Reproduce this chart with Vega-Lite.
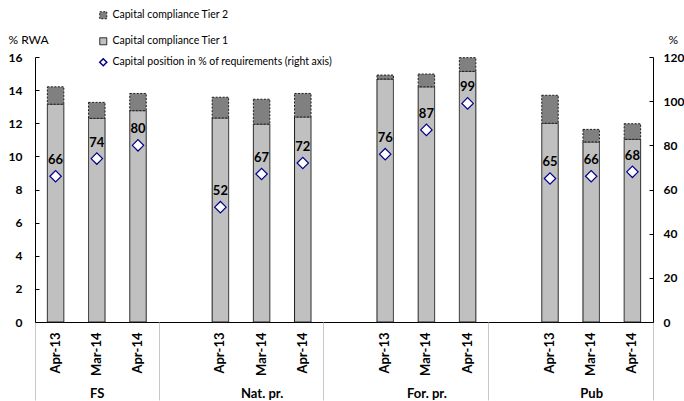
{
  "$schema": "https://vega.github.io/schema/vega-lite/v6.json",
  "width": 618,
  "height": 265,
  "autosize": "none",
  "padding": {"left": 35, "top": 57, "right": 31, "bottom": 79},
  "background": "white",
  "config": {
    "font": "Lato",
    "view": {"stroke": null},
    "axis": {
      "grid": false,
      "domainColor": "#000",
      "domainWidth": 1,
      "tickColor": "#000",
      "labelFont": "Lato",
      "labelFontWeight": "bold",
      "labelColor": "#000",
      "labelFontSize": 12,
      "titleFont": "Lato",
      "titleColor": "#000",
      "titleFontWeight": "normal",
      "titleFontSize": 12
    },
    "legend": {"labelFont": "Lato", "labelFontSize": 10.5, "labelColor": "#000", "labelLimit": 0}
  },
  "datasets": {
    "tiers": [
      {"group": "FS", "date": "Apr-13", "series": "Capital compliance Tier 1", "value": 13.15},
      {"group": "FS", "date": "Apr-13", "series": "Capital compliance Tier 2", "value": 1.05},
      {"group": "FS", "date": "Mar-14", "series": "Capital compliance Tier 1", "value": 12.3},
      {"group": "FS", "date": "Mar-14", "series": "Capital compliance Tier 2", "value": 0.96},
      {"group": "FS", "date": "Apr-14", "series": "Capital compliance Tier 1", "value": 12.76},
      {"group": "FS", "date": "Apr-14", "series": "Capital compliance Tier 2", "value": 1.04},
      {"group": "Nat. pr.", "date": "Apr-13", "series": "Capital compliance Tier 1", "value": 12.32},
      {"group": "Nat. pr.", "date": "Apr-13", "series": "Capital compliance Tier 2", "value": 1.25},
      {"group": "Nat. pr.", "date": "Mar-14", "series": "Capital compliance Tier 1", "value": 11.95},
      {"group": "Nat. pr.", "date": "Mar-14", "series": "Capital compliance Tier 2", "value": 1.5},
      {"group": "Nat. pr.", "date": "Apr-14", "series": "Capital compliance Tier 1", "value": 12.38},
      {"group": "Nat. pr.", "date": "Apr-14", "series": "Capital compliance Tier 2", "value": 1.42},
      {"group": "For. pr.", "date": "Apr-13", "series": "Capital compliance Tier 1", "value": 14.67},
      {"group": "For. pr.", "date": "Apr-13", "series": "Capital compliance Tier 2", "value": 0.24},
      {"group": "For. pr.", "date": "Mar-14", "series": "Capital compliance Tier 1", "value": 14.2},
      {"group": "For. pr.", "date": "Mar-14", "series": "Capital compliance Tier 2", "value": 0.77},
      {"group": "For. pr.", "date": "Apr-14", "series": "Capital compliance Tier 1", "value": 15.13},
      {"group": "For. pr.", "date": "Apr-14", "series": "Capital compliance Tier 2", "value": 0.83},
      {"group": "Pub", "date": "Apr-13", "series": "Capital compliance Tier 1", "value": 12.0},
      {"group": "Pub", "date": "Apr-13", "series": "Capital compliance Tier 2", "value": 1.69},
      {"group": "Pub", "date": "Mar-14", "series": "Capital compliance Tier 1", "value": 10.87},
      {"group": "Pub", "date": "Mar-14", "series": "Capital compliance Tier 2", "value": 0.76},
      {"group": "Pub", "date": "Apr-14", "series": "Capital compliance Tier 1", "value": 11.03},
      {"group": "Pub", "date": "Apr-14", "series": "Capital compliance Tier 2", "value": 0.94}
    ],
    "position": [
      {"group": "FS", "date": "Apr-13", "pos": 66},
      {"group": "FS", "date": "Mar-14", "pos": 74},
      {"group": "FS", "date": "Apr-14", "pos": 80},
      {"group": "Nat. pr.", "date": "Apr-13", "pos": 52},
      {"group": "Nat. pr.", "date": "Mar-14", "pos": 67},
      {"group": "Nat. pr.", "date": "Apr-14", "pos": 72},
      {"group": "For. pr.", "date": "Apr-13", "pos": 76},
      {"group": "For. pr.", "date": "Mar-14", "pos": 87},
      {"group": "For. pr.", "date": "Apr-14", "pos": 99},
      {"group": "Pub", "date": "Apr-13", "pos": 65},
      {"group": "Pub", "date": "Mar-14", "pos": 66},
      {"group": "Pub", "date": "Apr-14", "pos": 68}
    ]
  },
  "layer": [
    {
      "data": {"name": "tiers"},
      "transform": [{"calculate": "datum.group + '|' + datum.date", "as": "bar"}],
      "mark": {"type": "bar", "width": {"band": 0.4}, "stroke": "#1a1a1a", "strokeWidth": 1},
      "encoding": {
        "x": {
          "field": "bar",
          "type": "nominal",
          "sort": null,
          "scale": {
            "type": "band",
            "domain": ["FS|Apr-13", "FS|Mar-14", "FS|Apr-14", "gap1", "Nat. pr.|Apr-13", "Nat. pr.|Mar-14", "Nat. pr.|Apr-14", "gap2", "For. pr.|Apr-13", "For. pr.|Mar-14", "For. pr.|Apr-14", "gap3", "Pub|Apr-13", "Pub|Mar-14", "Pub|Apr-14"],
            "paddingInner": 0,
            "paddingOuter": 0
          },
          "axis": {
            "orient": "bottom",
            "title": null,
            "labelAngle": -90,
            "labelExpr": "indexof(datum.value, '|') > 0 ? split(datum.value, '|')[1] : ''",
            "ticks": false,
            "tickSize": 0,
            "labelPadding": 10,
            "labelFontSize": 13
          }
        },
        "y": {
          "field": "value",
          "type": "quantitative",
          "stack": "zero",
          "scale": {"domain": [0, 16], "nice": false},
          "axis": {
            "orient": "left",
            "values": [0, 2, 4, 6, 8, 10, 12, 14, 16],
            "title": "% RWA",
            "titleAngle": 0,
            "titleAlign": "left",
            "titleBaseline": "alphabetic",
            "titleX": -27,
            "titleY": -14,
            "tickSize": -4,
            "labelPadding": 17
          }
        },
        "fill": {
          "field": "series",
          "type": "nominal",
          "scale": {"domain": ["Capital compliance Tier 2", "Capital compliance Tier 1"], "range": ["#808080", "#c0c0c0"]},
          "legend": {
            "orient": "none",
            "legendX": 63,
            "legendY": -47,
            "title": null,
            "symbolType": "square",
            "symbolSize": 49,
            "rowPadding": 14,
            "labelOffset": 4,
            "symbolStrokeColor": "#333",
            "symbolStrokeWidth": 1
          }
        },
        "strokeDash": {
          "field": "series",
          "type": "nominal",
          "scale": {"domain": ["Capital compliance Tier 2", "Capital compliance Tier 1"], "range": [[2, 1.5], [1, 0]]}
        },
        "order": {"field": "series", "sort": "ascending"}
      }
    },
    {
      "data": {"name": "position"},
      "transform": [{"calculate": "datum.group + '|' + datum.date", "as": "bar"}],
      "encoding": {
        "x": {
          "field": "bar",
          "type": "nominal",
          "sort": null,
          "scale": {
            "type": "band",
            "domain": ["FS|Apr-13", "FS|Mar-14", "FS|Apr-14", "gap1", "Nat. pr.|Apr-13", "Nat. pr.|Mar-14", "Nat. pr.|Apr-14", "gap2", "For. pr.|Apr-13", "For. pr.|Mar-14", "For. pr.|Apr-14", "gap3", "Pub|Apr-13", "Pub|Mar-14", "Pub|Apr-14"],
            "paddingInner": 0,
            "paddingOuter": 0
          },
          "axis": null
        },
        "y": {
          "field": "pos",
          "type": "quantitative",
          "scale": {"domain": [0, 120], "nice": false},
          "axis": {
            "orient": "right",
            "values": [0, 20, 40, 60, 80, 100, 120],
            "title": "%",
            "titleAngle": 0,
            "titleAlign": "left",
            "titleBaseline": "alphabetic",
            "titleX": 15,
            "titleY": -14,
            "tickSize": -4,
            "labelPadding": 14
          }
        }
      },
      "layer": [
        {
          "mark": {"type": "point", "filled": true, "fill": "#ffffff", "stroke": "#00008b", "strokeWidth": 1.2, "size": 130, "opacity": 1},
          "encoding": {
            "shape": {
              "datum": "Capital position in % of requirements (right axis)",
              "scale": {"range": ["diamond"]},
              "legend": {
                "orient": "none",
                "legendX": 63,
                "legendY": 0,
                "title": null,
                "symbolType": "diamond",
                "symbolSize": 50,
                "labelOffset": 4,
                "encode": {
                  "symbols": {
                    "update": {
                      "fill": {"value": "#ffffff"},
                      "stroke": {"value": "#00008b"},
                      "strokeWidth": {"value": 1},
                      "opacity": {"value": 1}
                    }
                  }
                }
              }
            }
          }
        },
        {
          "mark": {"type": "text", "dy": -12, "baseline": "alphabetic", "fontWeight": "bold", "fontSize": 13, "color": "#000"},
          "encoding": {"text": {"field": "pos", "type": "quantitative"}}
        }
      ]
    },
    {
      "data": {"name": "tiers"},
      "mark": {"type": "tick", "opacity": 0},
      "encoding": {
        "x": {
          "field": "group",
          "type": "nominal",
          "sort": null,
          "scale": {"type": "band", "domain": ["FS", "Nat. pr.", "For. pr.", "Pub"], "paddingInner": 0.25, "paddingOuter": 0},
          "axis": {
            "orient": "bottom",
            "title": null,
            "domain": false,
            "labelAngle": 0,
            "tickBand": "extent",
            "tickSize": 78,
            "tickColor": "#c8c8c8",
            "labelPadding": -13,
            "labelFontSize": 13
          }
        }
      }
    }
  ],
  "resolve": {"scale": {"x": "independent", "y": "independent"}}
}
